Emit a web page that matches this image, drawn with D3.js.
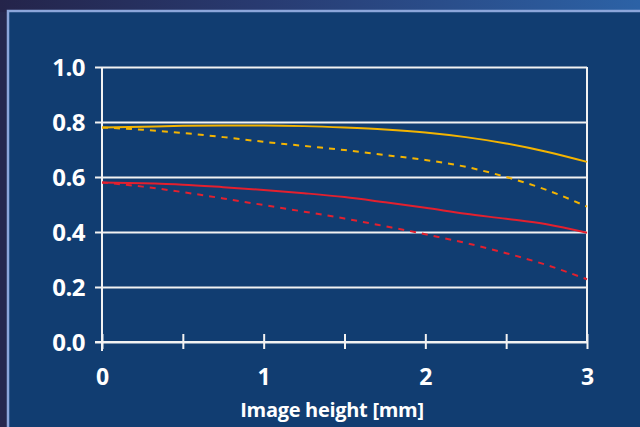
<!DOCTYPE html>
<html>
<head>
<meta charset="utf-8">
<script src="https://cdn.jsdelivr.net/npm/d3@7"></script>
<style>
  body { margin: 0; background: #25284e; }
  svg { display: block; }
</style>
</head>
<body>
<script>
// image height in mm
const positions = [0, 0.25, 0.5, 0.75, 1, 1.25, 1.5, 1.75, 2, 2.25, 2.5, 2.75, 3];
// MTF curves
const yellowSolid = [0.780, 0.783, 0.786, 0.787, 0.787, 0.785, 0.780, 0.773, 0.762, 0.745, 0.722, 0.692, 0.655];
const yellowDashed = [0.780, 0.772, 0.760, 0.745, 0.728, 0.713, 0.698, 0.680, 0.662, 0.637, 0.600, 0.553, 0.492];
const redSolid = [0.580, 0.577, 0.572, 0.563, 0.553, 0.541, 0.527, 0.508, 0.488, 0.466, 0.448, 0.428, 0.397];
const redDashed = [0.580, 0.565, 0.545, 0.522, 0.498, 0.474, 0.449, 0.421, 0.392, 0.360, 0.323, 0.280, 0.228];
const yTicks = [0, 0.2, 0.4, 0.6, 0.8, 1.0];
const xTicks = [0, 0.5, 1, 1.5, 2, 2.5, 3];
const xLabels = [0, 1, 2, 3];

const width = 640, height = 427;
const marginLeft = 102, marginRight = 53, marginTop = 67, marginBottom = 85;

const svg = d3.select('body').append('svg')
    .attr('width', width)
    .attr('height', height)
    .attr('viewBox', [0, 0, width, height]);

const defs = svg.append('defs');
defs.append('linearGradient')
    .attr('id', 'bg-gradient')
    .call((g) => {
        g.append('stop').attr('offset', '0%').attr('stop-color', '#24244a');
        g.append('stop').attr('offset', '40%').attr('stop-color', '#283a70');
        g.append('stop').attr('offset', '100%').attr('stop-color', '#2c62a6');
    });

// background + panel
svg.append('rect')
    .attr('width', width).attr('height', height)
    .attr('fill', 'url(#bg-gradient)');
svg.append('rect')
    .attr('x', 0).attr('y', 12).attr('width', 8).attr('height', height)
    .attr('fill', '#25284e');
svg.append('rect')
    .attr('x', 8).attr('y', 11)
    .attr('width', width).attr('height', height)
    .attr('fill', '#113d71')
    .attr('stroke', '#8ca6da')
    .attr('stroke-width', 2.5);

const x = d3.scaleLinear([0, 3], [marginLeft, width - marginRight]);
const y = d3.scaleLinear([0, 1], [height - marginBottom, marginTop]);

const font = '"Open Sans", "DejaVu Sans", sans-serif';

// y axis with grid
svg.append('g')
    .attr('transform', `translate(${marginLeft},0)`)
    .call(d3.axisLeft(y).tickValues(yTicks).tickFormat(d3.format('.1f')).tickSize(7).tickPadding(10))
    .call((g) => g.select('.domain').remove())
    .call((g) => g.selectAll('.tick line')
        .attr('stroke', '#f2f2f2').attr('stroke-width', 2)
        .attr('x2', x(3) - marginLeft).attr('x1', -7))
    .call((g) => g.selectAll('.tick text')
        .attr('fill', '#ffffff')
        .attr('font-family', font)
        .attr('font-weight', 'bold')
        .attr('font-size', 24)
        .attr('letter-spacing', -0.5)
        .attr('dy', '0.36em'));

// x axis
svg.append('g')
    .attr('transform', `translate(0,${y(0)})`)
    .call(d3.axisBottom(x).tickValues(xTicks).tickSize(7)
        .tickFormat((d) => (xLabels.includes(d) ? d : '')))
    .call((g) => g.select('.domain').remove())
    .call((g) => g.selectAll('.tick line')
        .attr('stroke', '#f2f2f2').attr('stroke-width', 2)
        .attr('y1', -8))
    .call((g) => g.selectAll('.tick text')
        .attr('fill', '#ffffff')
        .attr('font-family', font)
        .attr('font-weight', 'bold')
        .attr('font-size', 23)
        .attr('y', 43)
        .attr('dy', 0));

// axis frame lines
svg.append('line')
    .attr('x1', x(0)).attr('x2', x(0))
    .attr('y1', y(1)).attr('y2', y(0) + 9)
    .attr('stroke', '#f2f2f2').attr('stroke-width', 2);
svg.append('line')
    .attr('x1', x(3)).attr('x2', x(3))
    .attr('y1', y(1)).attr('y2', y(0))
    .attr('stroke', '#f2f2f2').attr('stroke-width', 2);
svg.append('line')
    .attr('x1', x(0) - 7).attr('x2', x(3))
    .attr('y1', y(0)).attr('y2', y(0))
    .attr('stroke', '#f2f2f2').attr('stroke-width', 2);

// axis title
svg.append('text')
    .attr('x', 332)
    .attr('y', 417)
    .attr('text-anchor', 'middle')
    .attr('fill', '#ffffff')
    .attr('font-family', font)
    .attr('font-weight', 'bold')
    .attr('font-size', 20)
    .attr('letter-spacing', -0.3)
    .text('Image height [mm]');

// curves
const line = d3.line()
    .x((d, i) => x(positions[i]))
    .y((d) => y(d))
    .curve(d3.curveMonotoneX);

const series = [
    { values: yellowSolid, color: '#f4b400', dash: null },
    { values: yellowDashed, color: '#f4b400', dash: '6,6' },
    { values: redSolid, color: '#e3202e', dash: null },
    { values: redDashed, color: '#e3202e', dash: '6,6' },
];

svg.append('g')
    .attr('fill', 'none')
    .selectAll('path')
    .data(series)
    .join('path')
    .attr('d', (s) => line(s.values))
    .attr('stroke', (s) => s.color)
    .attr('stroke-width', 2)
    .attr('stroke-dasharray', (s) => s.dash);
</script>
</body>
</html>
